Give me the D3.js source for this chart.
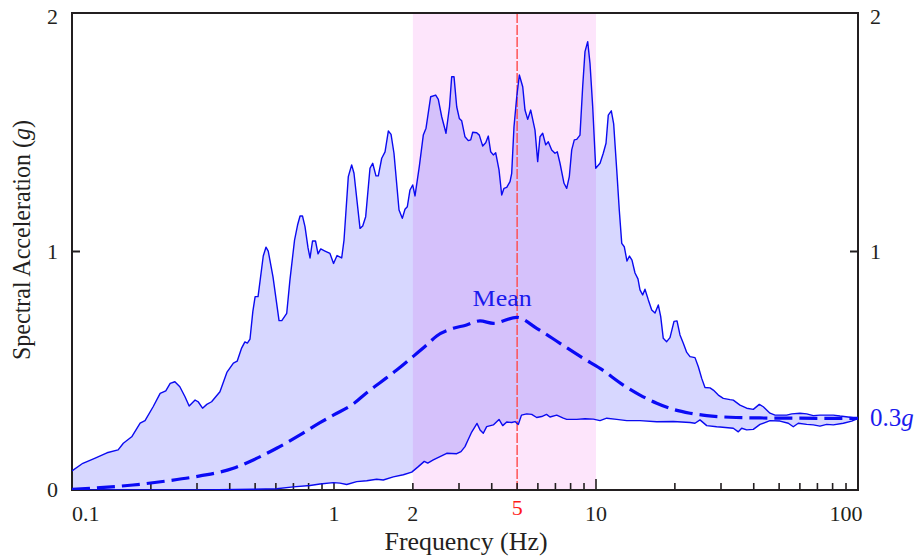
<!DOCTYPE html>
<html>
<head>
<meta charset="utf-8">
<script src="https://cdn.jsdelivr.net/npm/d3@7"></script>
<style>
  body { margin: 0; background: #fff; }
  svg { display: block; }
</style>
</head>
<body>
<svg id="chart" width="919" height="559"></svg>
<script>
// Response spectra envelope: frequency (Hz) and spectral acceleration (g)
const upperFreq = [
  0.1, 0.110, 0.122, 0.136, 0.150, 0.157, 0.169, 0.182, 0.190, 0.204,
  0.217, 0.228, 0.237, 0.247, 0.258, 0.270, 0.280, 0.295, 0.303, 0.315,
  0.327, 0.341, 0.367, 0.390, 0.413, 0.427, 0.444, 0.457, 0.467, 0.478,
  0.490, 0.500, 0.513, 0.537, 0.550, 0.561, 0.585, 0.617, 0.632, 0.660,
  0.679, 0.707, 0.726, 0.742, 0.758, 0.775, 0.796, 0.810, 0.828, 0.850,
  0.869, 0.890, 0.924, 0.965, 0.996, 1.027, 1.070, 1.092, 1.134, 1.168,
  1.192, 1.257, 1.287, 1.321, 1.372, 1.405, 1.446, 1.476, 1.521, 1.566,
  1.612, 1.651, 1.694, 1.771, 1.823, 1.866, 1.905, 1.950, 1.997, 2.038,
  2.116, 2.192, 2.245, 2.339, 2.444, 2.501, 2.577, 2.676, 2.760, 2.813,
  2.871, 2.940, 3.008, 3.072, 3.162, 3.255, 3.325, 3.384, 3.505, 3.586,
  3.695, 3.793, 3.881, 3.964, 4.055, 4.142, 4.264, 4.366, 4.456, 4.563,
  4.697, 4.767, 4.864, 4.983, 5.098, 5.252, 5.358, 5.487, 5.634, 5.850,
  5.990, 6.113, 6.259, 6.427, 6.575, 6.774, 6.974, 7.117, 7.288, 7.549,
  7.731, 7.909, 8.078, 8.264, 8.440, 8.687, 8.895, 9.078, 9.296, 9.486,
  9.714, 9.975, 10.36, 10.66, 10.92, 11.14, 11.44, 11.68, 12.00, 12.27,
  12.54, 12.82, 13.13, 13.42, 13.72, 14.09, 14.46, 14.72, 15.07, 15.38,
  15.84, 16.32, 16.80, 17.29, 17.66, 18.06, 18.61, 19.16, 19.85, 20.38,
  20.92, 21.54, 22.20, 22.85, 23.87, 24.58, 25.32, 26.06, 27.24, 28.04,
  29.30, 30.61, 32.47, 33.42, 35.45, 37.60, 39.85, 42.01, 43.50, 46.15,
  48.23, 53.45, 55.84, 60.05, 63.71, 67.51, 71.61, 80.48, 85.36, 93.22,
  100
];
const upperSa = [
  0.080, 0.112, 0.133, 0.156, 0.168, 0.196, 0.223, 0.280, 0.291, 0.349,
  0.405, 0.416, 0.447, 0.454, 0.433, 0.391, 0.352, 0.377, 0.370, 0.343,
  0.359, 0.370, 0.412, 0.493, 0.532, 0.540, 0.595, 0.621, 0.616, 0.633,
  0.748, 0.811, 0.811, 0.981, 1.018, 1.002, 0.894, 0.710, 0.710, 0.741,
  0.881, 1.048, 1.111, 1.149, 1.149, 1.104, 1.015, 0.973, 1.044, 1.044,
  0.990, 1.011, 1.002, 0.992, 0.950, 0.983, 0.973, 1.048, 1.314, 1.363,
  1.328, 1.097, 1.107, 1.146, 1.349, 1.370, 1.317, 1.317, 1.391, 1.418,
  1.505, 1.491, 1.412, 1.174, 1.139, 1.177, 1.188, 1.258, 1.279, 1.233,
  1.356, 1.488, 1.517, 1.649, 1.656, 1.638, 1.565, 1.496, 1.607, 1.733,
  1.733, 1.607, 1.558, 1.548, 1.481, 1.465, 1.468, 1.500, 1.498, 1.488,
  1.442, 1.456, 1.484, 1.418, 1.405, 1.414, 1.342, 1.237, 1.265, 1.269,
  1.293, 1.328, 1.523, 1.649, 1.740, 1.691, 1.593, 1.554, 1.593, 1.509,
  1.377, 1.481, 1.496, 1.447, 1.460, 1.426, 1.412, 1.418, 1.370, 1.286,
  1.265, 1.314, 1.426, 1.468, 1.470, 1.488, 1.691, 1.838, 1.880, 1.789,
  1.607, 1.349, 1.370, 1.412, 1.454, 1.572, 1.590, 1.535, 1.342, 1.174,
  1.034, 1.020, 0.960, 0.981, 0.964, 0.910, 0.885, 0.839, 0.818, 0.842,
  0.797, 0.755, 0.742, 0.776, 0.727, 0.636, 0.622, 0.639, 0.707, 0.709,
  0.650, 0.615, 0.577, 0.559, 0.555, 0.517, 0.468, 0.430, 0.428, 0.419,
  0.398, 0.384, 0.379, 0.377, 0.356, 0.343, 0.338, 0.359, 0.349, 0.322,
  0.314, 0.314, 0.319, 0.322, 0.319, 0.312, 0.314, 0.314, 0.310, 0.305,
  0.300
];
const lowerFreq = [
  0.1, 0.308, 0.492, 0.604, 0.699, 0.810, 0.884, 0.994, 1.054, 1.118,
  1.221, 1.333, 1.455, 1.542, 1.684, 1.839, 1.980, 2.098, 2.211, 2.279,
  2.393, 2.539, 2.693, 2.940, 3.053, 3.162, 3.247, 3.354, 3.515, 3.609,
  3.714, 3.826, 4.055, 4.264, 4.405, 4.563, 4.767, 4.907, 5.051, 5.195,
  5.439, 5.683, 5.938, 6.205, 6.473, 6.674, 7.079, 7.503, 7.731, 8.440,
  9.078, 9.766, 10.36, 10.99, 12.00, 13.10, 14.72, 17.05, 19.72, 22.85,
  23.87, 24.94, 26.46, 28.88, 29.73, 33.42, 34.93, 35.98, 37.60, 39.85,
  42.27, 46.15, 50.38, 54.20, 56.63, 59.16, 63.71, 67.51, 71.61, 75.96,
  80.48, 87.88, 94.62, 100
];
const lowerSa = [
  0, 0, 0.003, 0.005, 0.013, 0.019, 0.025, 0.031, 0.029, 0.023,
  0.035, 0.039, 0.045, 0.042, 0.055, 0.064, 0.075, 0.098, 0.120, 0.113,
  0.126, 0.140, 0.154, 0.152, 0.161, 0.182, 0.210, 0.243, 0.279, 0.252,
  0.238, 0.266, 0.273, 0.296, 0.270, 0.285, 0.283, 0.287, 0.275, 0.314,
  0.319, 0.317, 0.304, 0.308, 0.317, 0.306, 0.314, 0.301, 0.296, 0.296,
  0.299, 0.297, 0.291, 0.301, 0.296, 0.291, 0.291, 0.286, 0.287, 0.283,
  0.280, 0.294, 0.270, 0.265, 0.264, 0.259, 0.244, 0.259, 0.252, 0.254,
  0.275, 0.291, 0.289, 0.280, 0.265, 0.280, 0.275, 0.273, 0.268, 0.275,
  0.273, 0.280, 0.289, 0.300
];
const meanFreq = [
  0.1, 0.128, 0.171, 0.230, 0.308, 0.413, 0.492, 0.604, 0.742, 0.884,
  0.994, 1.185, 1.333, 1.498, 1.735, 1.950, 2.259, 2.466, 2.853, 3.162,
  3.609, 4.055, 4.983, 5.938, 7.288, 8.943, 10.36, 12.71, 14.72, 17.05,
  19.72, 22.85, 26.46, 32.47, 42.27, 60.05, 100
];
const meanSa = [
  0.003, 0.010, 0.021, 0.038, 0.059, 0.091, 0.126, 0.175, 0.231, 0.282,
  0.314, 0.361, 0.408, 0.450, 0.503, 0.549, 0.608, 0.646, 0.678, 0.690,
  0.709, 0.699, 0.724, 0.678, 0.615, 0.552, 0.510, 0.440, 0.398, 0.364,
  0.338, 0.322, 0.312, 0.305, 0.302, 0.301, 0.300
];

// Highlighted frequency band, dominant frequency and the high-frequency floor
const bandRange = [2, 10];
const dominantFreq = 5;
const zpaSa = 0.3;

const xLabelTicks = [0.1, 1, 2, 5, 10, 100];
const yTickValues = [0, 1, 2];

const serif = '"Times New Roman", Tinos, "Liberation Serif", serif';
const svg = d3.select("#chart");
const axisColor = "#231f20";
const curveColor = "#0a0af0";

const x = d3.scaleLog().domain([0.1, 100]).range([72, 858]);
const y = d3.scaleLinear().domain([0, 2]).range([490, 13]);

const pts = (fs, vs) => fs.map((f, i) => [x(f), y(vs[i])]);
const upperPts = pts(upperFreq, upperSa);
const lowerPts = pts(lowerFreq, lowerSa);
const meanPts = pts(meanFreq, meanSa);

svg.append("defs").append("clipPath").attr("id", "plotClip")
  .append("rect")
  .attr("x", x.range()[0]).attr("y", y.range()[1])
  .attr("width", x.range()[1] - x.range()[0])
  .attr("height", y.range()[0] - y.range()[1]);

const plot = svg.append("g").attr("clip-path", "url(#plotClip)");

// Frequency band of interest
plot.append("rect")
  .attr("x", x(bandRange[0]))
  .attr("y", y(2))
  .attr("width", x(bandRange[1]) - x(bandRange[0]))
  .attr("height", y(0) - y(2))
  .attr("fill", "#fde5fb");

// Envelope between the lowest and the highest spectrum
const line = d3.line();
plot.append("path")
  .attr("d", line(upperPts.concat(lowerPts.slice().reverse())) + "Z")
  .attr("fill", "rgba(0,0,255,0.155)")
  .attr("stroke", "none");

// Dominant frequency marker
plot.append("line")
  .attr("x1", x(dominantFreq)).attr("x2", x(dominantFreq))
  .attr("y1", y(2)).attr("y2", y(0))
  .attr("stroke", "#ff4a4a")
  .attr("stroke-width", 1.4)
  .attr("stroke-dasharray", "10,2");

// Frame and axes
const frame = svg.append("g");
frame.append("rect")
  .attr("x", x.range()[0]).attr("y", y.range()[1])
  .attr("width", x.range()[1] - x.range()[0])
  .attr("height", y.range()[0] - y.range()[1])
  .attr("fill", "none")
  .attr("stroke", axisColor)
  .attr("stroke-width", 2);

// Log ticks along the bottom, drawn inward
const xTicks = x.ticks();
frame.selectAll("line.xtick")
  .data(xTicks.filter(t => t > 0.1 && t < 100))
  .join("line")
  .attr("class", "xtick")
  .attr("x1", d => x(d)).attr("x2", d => x(d))
  .attr("y1", y(0))
  .attr("y2", d => y(0) - (d === 10 ? 11 : 7))
  .attr("stroke", axisColor)
  .attr("stroke-width", 1.6);

// Value ticks on both sides, drawn inward
frame.selectAll("line.ytickL")
  .data(yTickValues.filter(v => v > 0 && v < 2))
  .join("line")
  .attr("x1", x(0.1)).attr("x2", x(0.1) + 8)
  .attr("y1", d => y(d)).attr("y2", d => y(d))
  .attr("stroke", axisColor).attr("stroke-width", 2);
frame.selectAll("line.ytickR")
  .data(yTickValues.filter(v => v > 0 && v < 2))
  .join("line")
  .attr("x1", x(100)).attr("x2", x(100) - 8)
  .attr("y1", d => y(d)).attr("y2", d => y(d))
  .attr("stroke", axisColor).attr("stroke-width", 2);

// Spectrum curves
const lines = svg.append("g").attr("clip-path", "url(#plotClip)");
lines.append("path")
  .attr("d", line(upperPts))
  .attr("fill", "none").attr("stroke", curveColor).attr("stroke-width", 1.4)
  .attr("stroke-linejoin", "round");
lines.append("path")
  .attr("d", line(lowerPts))
  .attr("fill", "none").attr("stroke", curveColor).attr("stroke-width", 1.4)
  .attr("stroke-linejoin", "round");
lines.append("path")
  .attr("d", d3.line().curve(d3.curveMonotoneX)(meanPts))
  .attr("fill", "none").attr("stroke", "#0a0af5").attr("stroke-width", 3.2)
  .attr("stroke-dasharray", "18,7");

// Tick labels
const labels = svg.append("g");
labels.selectAll("text.xl")
  .data(xLabelTicks)
  .join("text")
  .style("font-family", serif).style("font-size", "22px")
  .attr("x", d => x(d) + (d === 100 ? -12 : 0))
  .attr("y", 521)
  .attr("dy", d => d === dominantFreq ? -6 : 0)
  .attr("text-anchor", d => d === 0.1 ? "start" : "middle")
  .attr("fill", d => d === dominantFreq ? "#ff1a1a" : axisColor)
  .text(d => d);

labels.selectAll("text.yl")
  .data(yTickValues)
  .join("text")
  .style("font-family", serif).style("font-size", "22px")
  .attr("fill", axisColor)
  .attr("x", x(0.1) - 14)
  .attr("y", d => y(d) + (d === 2 ? 4 : 0))
  .attr("dy", "0.34em")
  .attr("text-anchor", "end")
  .text(d => d);

labels.selectAll("text.yr")
  .data(yTickValues.filter(v => v > 0))
  .join("text")
  .style("font-family", serif).style("font-size", "22px")
  .attr("fill", axisColor)
  .attr("x", x(100) + 12)
  .attr("y", d => y(d) + (d === 2 ? 4 : 0))
  .attr("dy", "0.34em")
  .attr("text-anchor", "start")
  .text(d => d);

// Axis titles
svg.append("text")
  .style("font-family", serif).style("font-size", "25px")
  .attr("x", (x.range()[0] + x.range()[1]) / 2 + 1)
  .attr("y", 550)
  .attr("text-anchor", "middle")
  .attr("textLength", 163)
  .attr("lengthAdjust", "spacingAndGlyphs")
  .attr("fill", axisColor)
  .text("Frequency (Hz)");

const yTitle = svg.append("text")
  .style("font-family", serif).style("font-size", "25px")
  .attr("transform", "translate(30,240) rotate(-90)")
  .attr("text-anchor", "middle")
  .attr("textLength", 240)
  .attr("lengthAdjust", "spacingAndGlyphs")
  .attr("fill", axisColor);
yTitle.append("tspan").text("Spectral Acceleration (");
yTitle.append("tspan").style("font-style", "italic").text("g");
yTitle.append("tspan").text(")");

// Curve annotations
svg.append("text")
  .style("font-family", serif).style("font-size", "24px")
  .attr("x", x(dominantFreq) - 15)
  .attr("y", 306)
  .attr("text-anchor", "middle")
  .attr("textLength", 59)
  .attr("lengthAdjust", "spacingAndGlyphs")
  .attr("fill", "#1a1aee")
  .text("Mean");

const zpa = svg.append("text")
  .style("font-family", serif).style("font-size", "25px")
  .attr("x", x(100) + 12)
  .attr("y", y(zpaSa))
  .attr("dy", "0.32em")
  .attr("fill", "#1a1aee");
zpa.append("tspan").text(zpaSa + "");
zpa.append("tspan").style("font-style", "italic").text("g");
</script>
</body>
</html>
